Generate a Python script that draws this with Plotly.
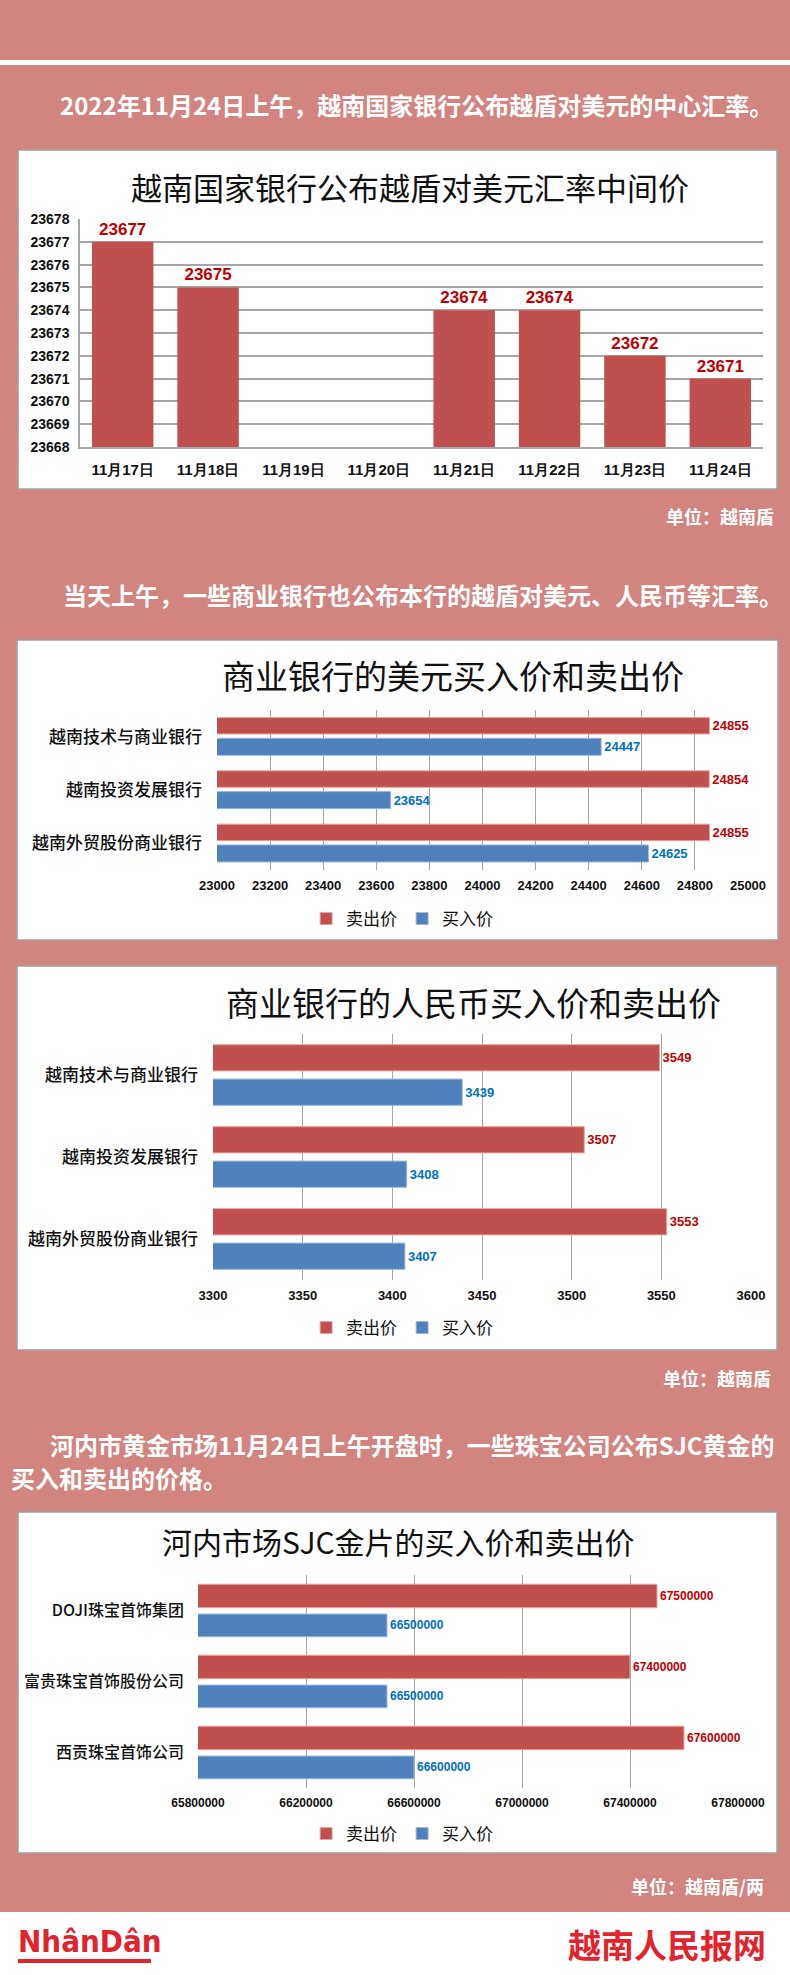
import plotly.graph_objects as go

W, H = 790, 1975

# ---------------- data ----------------
dates = ["11月17日", "11月18日", "11月19日", "11月20日", "11月21日", "11月22日", "11月23日", "11月24日"]
central_rate = [23677, 23675, None, None, 23674, 23674, 23672, 23671]

banks = ["越南技术与商业银行", "越南投资发展银行", "越南外贸股份商业银行"]
usd_sell = [24855, 24854, 24855]
usd_buy = [24447, 23654, 24625]
cny_sell = [3549, 3507, 3553]
cny_buy = [3439, 3408, 3407]

gold_companies = ["DOJI珠宝首饰集团", "富贵珠宝首饰股份公司", "西贡珠宝首饰公司"]
gold_sell = [67500000, 67400000, 67600000]
gold_buy = [66500000, 66500000, 66600000]

sell_name = "卖出价"
buy_name = "买入价"

# ---------------- styles ----------------
PINK = "#D18480"
RED = "#C0504D"
BLUE = "#4F81BD"
LRED = "#C00000"
LBLUE = "#0070C0"
GRID = "#A6A6A6"
CJK = "Noto Sans CJK SC"
NUM = "Liberation Sans"


def px(x):
    return x / W


def py(y):
    return 1 - y / H


fig = go.Figure()

# chart 1: vertical bars
fig.add_trace(go.Bar(
    x=dates, y=central_rate, xaxis="x", yaxis="y",
    marker=dict(color=RED, line=dict(width=0)), width=0.72,
    text=[str(v) if v is not None else "" for v in central_rate],
    textposition="outside", cliponaxis=False, constraintext="none",
    textfont=dict(family=NUM, size=17, color=LRED, weight="bold"),
    showlegend=False,
))


def hbars(cats, sell, buy, xa, ya, lg, fsize, offs):
    (ro, rw), (bo, bw) = offs
    fig.add_trace(go.Bar(
        y=cats, x=sell, orientation="h", xaxis=xa, yaxis=ya, name=sell_name,
        marker=dict(color=RED, line=dict(width=1, color="#E6A3A1")),
        offset=ro, width=rw,
        text=[str(v) for v in sell], textposition="outside", cliponaxis=False,
        constraintext="none",
        textfont=dict(family=NUM, size=fsize, color=LRED, weight="bold"),
        legend=lg,
    ))
    fig.add_trace(go.Bar(
        y=cats, x=buy, orientation="h", xaxis=xa, yaxis=ya, name=buy_name,
        marker=dict(color=BLUE, line=dict(width=1, color="#9DB6D8")),
        offset=bo, width=bw,
        text=[str(v) for v in buy], textposition="outside", cliponaxis=False,
        constraintext="none",
        textfont=dict(family=NUM, size=fsize, color=LBLUE, weight="bold"),
        legend=lg,
    ))


hbars(banks, usd_sell, usd_buy, "x2", "y2", "legend", 13, ((-0.36, 0.31), (0.03, 0.32)))
hbars(banks, cny_sell, cny_buy, "x3", "y3", "legend2", 13, ((-0.37, 0.32), (0.05, 0.32)))
hbars(gold_companies, gold_sell, gold_buy, "x4", "y4", "legend3", 12, ((-0.37, 0.33), (0.05, 0.32)))

# ---------------- shapes (background boxes) ----------------
shapes = []
shapes.append(dict(type="rect", xref="paper", yref="paper", x0=0, x1=1, y0=py(65), y1=py(60),
                   fillcolor="white", line=dict(width=0), layer="below"))
for (x0, y0, x1, y1) in [(18, 150, 777, 489), (17, 640, 778, 940), (17, 966, 777, 1350), (18, 1512, 777, 1853)]:
    shapes.append(dict(type="rect", xref="paper", yref="paper", x0=px(x0), x1=px(x1), y0=py(y1), y1=py(y0),
                       fillcolor="white", line=dict(width=1.5, color="#A0A0A0"), layer="below"))
shapes.append(dict(type="rect", xref="paper", yref="paper", x0=0, x1=1, y0=0, y1=py(1912),
                   fillcolor="white", line=dict(width=0), layer="below"))
shapes.append(dict(type="rect", xref="paper", yref="paper", x0=px(18), x1=px(151), y0=py(1963), y1=py(1959),
                   fillcolor="#E3232B", line=dict(width=0)))

# ---------------- annotations ----------------
ann = []


def text(x, y, s, size, color="white", anchor="left", family=CJK, weight="bold"):
    ann.append(dict(x=px(x), y=py(y), xref="paper", yref="paper", text=s, showarrow=False,
                    xanchor=anchor, yanchor="middle",
                    font=dict(family=family, size=size, color=color, weight=weight)))


text(58, 105, "2022年11月24日上午，越南国家银行公布越盾对美元的中心汇率。", 24)
text(61, 594, "当天上午，一些商业银行也公布本行的越盾对美元、人民币等汇率。", 24)
text(48, 1444, "河内市黄金市场11月24日上午开盘时，一些珠宝公司公布SJC黄金的", 24)
text(9, 1477, "买入和卖出的价格。", 24)
text(776, 516, "单位：越南盾", 18, anchor="right")
text(773, 1378, "单位：越南盾", 18, anchor="right")
text(766, 1886, "单位：越南盾/两", 18, anchor="right")

text(410, 186, "越南国家银行公布越盾对美元汇率中间价", 31, color="#111111", anchor="center", weight="normal")
text(453, 675, "商业银行的美元买入价和卖出价", 33, color="#111111", anchor="center", weight="normal")
text(473, 1002, "商业银行的人民币买入价和卖出价", 33, color="#111111", anchor="center", weight="normal")
text(398, 1541, "河内市场SJC金片的买入价和卖出价", 30, color="#111111", anchor="center", weight="normal")

text(16, 1941, "NhânDân", 31, color="#E3232B", family="DejaVu Sans Condensed, DejaVu Sans, sans-serif")
text(768, 1944, "越南人民报网", 33, color="#E3232B", anchor="right")

# ---------------- axes ----------------
tickfont_num = dict(family=NUM, size=13, color="#111111", weight="bold")
catfont = dict(family=CJK, size=17, color="#111111", weight=500)

layout_axes = dict(
    xaxis=dict(domain=[px(80), px(763)], anchor="y", type="category", range=[-0.5, 7.5],
               showgrid=False, showline=True, linecolor=GRID, linewidth=1.5, automargin=False,
               ticks="", tickfont=dict(family=NUM, size=15, color="#111111", weight="bold"),
               ticklabelstandoff=8, fixedrange=True),
    yaxis=dict(domain=[py(447), py(219)], anchor="x", range=[23668, 23678], dtick=1, automargin=False,
               showgrid=True, gridcolor=GRID, gridwidth=1.5, showline=True, linecolor=GRID, linewidth=1.5,
               zeroline=False, tickfont=dict(family=NUM, size=14, color="#111111", weight="bold"),
               tickformat="d", ticks="", ticklabelstandoff=6),
    xaxis2=dict(domain=[px(217), px(748)], anchor="y2", range=[23000, 25000], dtick=200, tick0=23000,
                automargin=False,
                showgrid=True, gridcolor=GRID, gridwidth=1, zeroline=False, tickformat="d",
                tickfont=tickfont_num, ticks="", ticklabelstandoff=6),
    yaxis2=dict(domain=[py(870), py(710)], anchor="x2", type="category", categoryarray=banks,
                categoryorder="array", range=[2.5, -0.5], showgrid=False, ticks="", automargin=False,
                tickfont=catfont, ticklabelstandoff=14),
    xaxis3=dict(domain=[px(213), px(751)], anchor="y3", range=[3300, 3600], dtick=50, tick0=3300,
                automargin=False,
                showgrid=True, gridcolor=GRID, gridwidth=1, zeroline=False, tickformat="d",
                tickfont=tickfont_num, ticks="", ticklabelstandoff=6),
    yaxis3=dict(domain=[py(1280), py(1034)], anchor="x3", type="category", categoryarray=banks,
                categoryorder="array", range=[2.5, -0.5], showgrid=False, ticks="", automargin=False,
                tickfont=catfont, ticklabelstandoff=14),
    xaxis4=dict(domain=[px(198), px(738)], anchor="y4", range=[65800000, 67800000], dtick=400000,
                tick0=65800000, automargin=False,
                showgrid=True, gridcolor=GRID, gridwidth=1, zeroline=False, tickformat="d",
                tickfont=dict(family=NUM, size=12, color="#111111", weight="bold"), ticks="",
                ticklabelstandoff=6),
    yaxis4=dict(domain=[py(1788), py(1575)], anchor="x4", type="category", categoryarray=gold_companies,
                categoryorder="array", range=[2.5, -0.5], showgrid=False, ticks="", automargin=False,
                tickfont=dict(family=CJK, size=16, color="#111111", weight=500), ticklabelstandoff=13),
)

legfont = dict(family=CJK, size=17, color="#111111")


def leg(y):
    return dict(orientation="h", x=0.509, y=py(y), xanchor="center", yanchor="middle",
                font=legfont, bgcolor="rgba(0,0,0,0)", itemwidth=30, traceorder="normal")


fig.update_layout(
    width=W, height=H, margin=dict(l=0, r=0, t=0, b=0, pad=0), autosize=False,
    paper_bgcolor=PINK, plot_bgcolor="rgba(0,0,0,0)",
    barmode="overlay", showlegend=True,
    legend=leg(919), legend2=leg(1328), legend3=leg(1834),
    shapes=shapes, annotations=ann,
    **layout_axes,
)

fig.write_html("out.html", config={"displayModeBar": False},
               post_script="document.body.style.margin='0';")
